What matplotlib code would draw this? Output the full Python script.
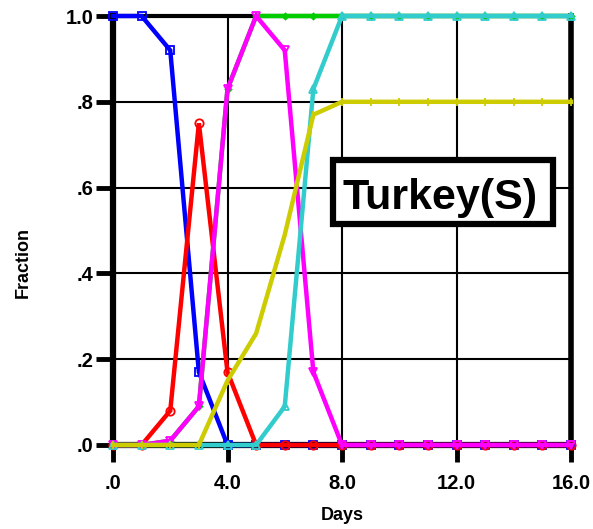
import matplotlib
matplotlib.use("Agg")
import matplotlib.pyplot as plt
from matplotlib.patches import Rectangle

days = list(range(0, 17))
blue = [1.0, 1.0, 0.92, 0.17, 0.0] + [0.0] * 12
red = [0.0, 0.0, 0.08, 0.75, 0.17, 0.0] + [0.0] * 11
magenta = [0.0, 0.0, 0.01, 0.09, 0.83, 1.0, 0.92, 0.17, 0.0] + [0.0] * 8
green = [0.0, 0.0, 0.01, 0.09, 0.83, 1.0, 1.0, 1.0, 1.0] + [1.0] * 8
cyan = [0.0, 0.0, 0.0, 0.0, 0.0, 0.0, 0.09, 0.83, 1.0] + [1.0] * 8
yellow = [0.0, 0.0, 0.0, 0.0, 0.15, 0.26, 0.49, 0.77, 0.80] + [0.80] * 8

xticks = [0, 4, 8, 12, 16]
xticklabels = [".0", "4.0", "8.0", "12.0", "16.0"]
yticks = [0, 0.2, 0.4, 0.6, 0.8, 1.0]
yticklabels = [".0", ".2", ".4", ".6", ".8", "1.0"]

plt.rcParams['font.family'] = ['Liberation Sans', 'DejaVu Sans']
plt.rcParams['font.weight'] = 'bold'

fig = plt.figure(figsize=(5.93, 5.29), dpi=100)
ax = fig.add_axes([113/593, 1-445/529, (571-113)/593, (445-16)/529])

series = [
    (blue, '#0000ff', 's', 'none'),
    (green, '#00cc00', 'D', '#00cc00'),
    (red, '#ff0000', 'o', 'none'),
    (magenta, '#ff00ff', 'v', 'none'),
    (cyan, '#33cccc', '^', 'none'),
    (yellow, '#cccc00', '|', 'none'),
]
for vals, col, mk, mfc in series:
    ms = 3 if mk == 'D' else 6
    ax.plot(days, vals, color=col, lw=3.2, marker=mk, ms=ms, mfc=mfc,
            mec=col, mew=1.3, clip_on=False, zorder=3,
            solid_joinstyle='miter')

ax.set_xlim(0, 16)
ax.set_ylim(0, 1)
ax.set_xticks(xticks)
ax.set_xticklabels(xticklabels, fontsize=14.5, fontweight='bold')
ax.set_yticks(yticks)
ax.set_yticklabels(yticklabels, fontsize=14.5, fontweight='bold')
ax.tick_params(axis='x', direction='out', length=12, width=3.5, pad=9)
ax.tick_params(axis='y', direction='out', length=12, width=3.5, pad=2)
ax.grid(True, color='black', lw=1.5, zorder=1)
ax.set_axisbelow(True)
for s in ['left', 'bottom']:
    ax.spines[s].set_linewidth(4.5)
ax.spines['right'].set_linewidth(4)
ax.spines['top'].set_linewidth(3)

fig.text(342/593, 1-515/529, "Days", fontsize=13, fontweight='bold',
         ha='center', va='center')
fig.text(23/593, 1-262/529, "Fraction", fontsize=13, fontweight='bold',
         ha='center', va='center', rotation=90)

ax.add_patch(Rectangle((7.69, 0.515), 15.37-7.69, 0.664-0.515,
                       fc='white', ec='black', lw=4.5, zorder=5, clip_on=False))
ax.text(11.44, 0.550, "Turkey(S)", fontsize=31, fontweight='bold',
        ha='center', va='baseline', zorder=6)

fig.savefig("out.png", dpi=100)
